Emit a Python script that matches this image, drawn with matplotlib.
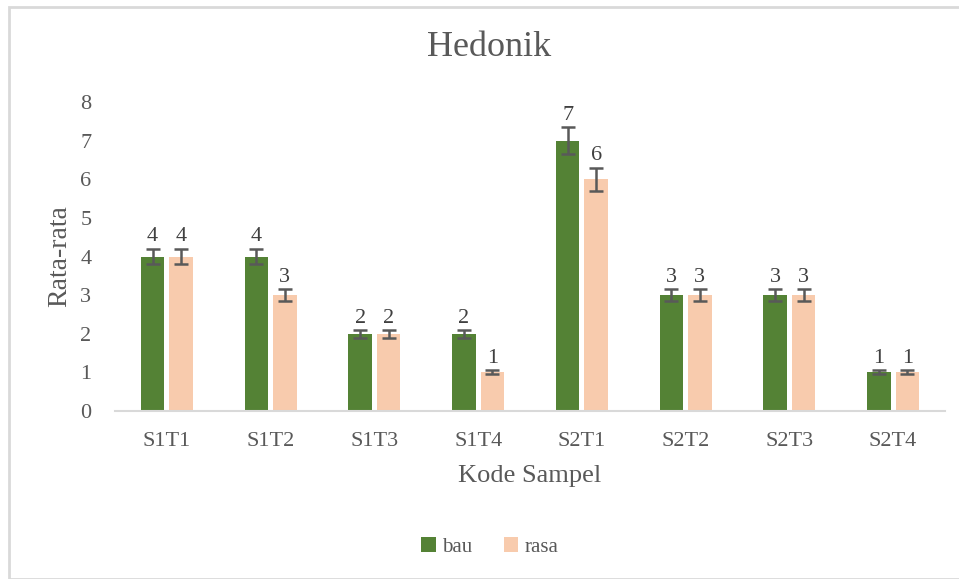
import matplotlib
matplotlib.use("Agg")
import matplotlib.pyplot as plt
import numpy as np
from matplotlib.patches import Rectangle

categories = ["S1T1", "S1T2", "S1T3", "S1T4", "S2T1", "S2T2", "S2T3", "S2T4"]
bau = [4, 4, 2, 2, 7, 3, 3, 1]
rasa = [4, 3, 2, 1, 6, 3, 3, 1]
err_pct = 0.05
yticks = [0, 1, 2, 3, 4, 5, 6, 7, 8]

green = "#548235"
peach = "#f8cbad"
gray = "#595959"
serif = ["Liberation Serif", "DejaVu Serif"]

fig = plt.figure(figsize=(9.59, 5.79), dpi=100)
fig.patches.append(Rectangle((9/959, 0), 1.0, 1 - 7/579, transform=fig.transFigure,
                             fill=False, edgecolor="#d9d9d9", linewidth=2, zorder=0))
ax = fig.add_axes([115/959, 1 - 411/579, (945 - 115)/959, (411 - 102)/579])

x = np.arange(len(categories))
w = 0.225
gap = 0.05
xb = x - (w + gap) / 2
xr = x + (w + gap) / 2
bau_err = [v * err_pct for v in bau]
rasa_err = [v * err_pct for v in rasa]

ax.bar(xb, bau, w, color=green, label="bau", zorder=2)
ax.bar(xr, rasa, w, color=peach, label="rasa", zorder=2)
ekw = dict(fmt="none", ecolor=gray, elinewidth=1.8, capsize=5, capthick=1.8, zorder=3)
ax.errorbar(xb, bau, yerr=bau_err, **ekw)
ax.errorbar(xr, rasa, yerr=rasa_err, **ekw)

for xi, v, e in zip(xb, bau, bau_err):
    ax.text(xi, v + e + 0.06, str(v), ha="center", va="bottom", fontsize=16,
            color="#404040", family=serif)
for xi, v, e in zip(xr, rasa, rasa_err):
    ax.text(xi, v + e + 0.06, str(v), ha="center", va="bottom", fontsize=16,
            color="#404040", family=serif)

ax.set_xlim(-0.5, len(categories) - 0.5)
ax.set_ylim(0, 8)
ax.set_yticks(yticks)
ax.set_xticks(x)
ax.set_xticklabels(categories)
for s in ["top", "right", "left"]:
    ax.spines[s].set_visible(False)
ax.spines["bottom"].set_color("#d9d9d9")
ax.spines["bottom"].set_linewidth(1.5)
ax.tick_params(axis="both", length=0, labelsize=16, colors=gray)
ax.tick_params(axis="x", pad=15)
ax.tick_params(axis="y", pad=17)
for lab in ax.get_xticklabels() + ax.get_yticklabels():
    lab.set_family(serif)

ax.set_xlabel("Kode Sampel", fontsize=19, color=gray, family=serif, labelpad=10)
ax.set_ylabel("Rata-rata", fontsize=20, color=gray, family=serif, labelpad=6)
fig.text(489/959, 1 - 48/579, "Hedonik", ha="center", va="center", fontsize=26,
         color=gray, family=serif)

fig.legend(loc="center", bbox_to_anchor=(490/959, 1 - 547/579), ncol=2, frameon=False,
           prop={"family": serif, "size": 15}, handlelength=0.7, handleheight=0.7,
           handletextpad=0.3, columnspacing=1.5, labelcolor=gray)

fig.savefig("out.png", dpi=100)
